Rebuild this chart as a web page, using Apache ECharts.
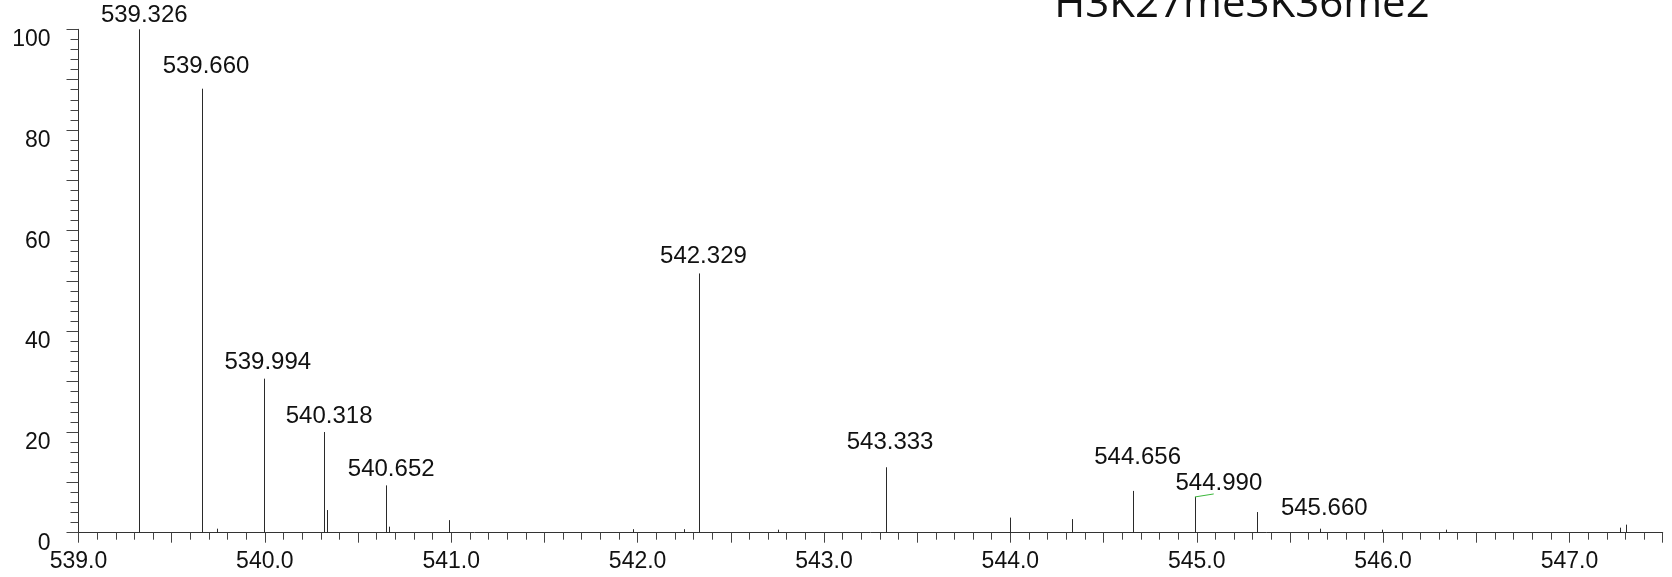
<!DOCTYPE html>
<html>
<head>
<meta charset="utf-8">
<script src="https://cdn.jsdelivr.net/npm/echarts@6/dist/echarts.min.js"></script>
<style>
  html, body { margin: 0; padding: 0; background: #fff; }
  #chart { width: 1672px; height: 577px; }
</style>
</head>
<body>
<div id="chart"></div>
<script>
// ---- data ----
const titleText = 'H3K27me3K36me2';
const mz = [539.326, 539.660, 539.741, 539.994, 540.318, 540.331, 540.651, 540.664,
            540.986, 541.975, 542.250, 542.329, 542.751, 543.333, 544.000, 544.333,
            544.656, 544.990, 545.321, 545.660, 545.994, 546.339, 547.269, 547.302];
const intensity = [100, 88.2, 0.8, 30.6, 20.0, 4.5, 9.4, 1.2,
                   2.5, 0.7, 0.7, 51.5, 0.6, 13.0, 3.0, 2.7,
                   8.3, 7.1, 4.1, 0.8, 0.6, 0.6, 1.0, 1.6];
const labeledMz = [539.326, 539.660, 539.994, 540.318, 540.652, 542.329, 543.333, 544.656, 544.990, 545.660];
const greenTrace = [[544.990, 7.1], [545.091, 7.7]];
const xTickLabels = ['539.0','540.0','541.0','542.0','543.0','544.0','545.0','546.0','547.0'];
const yTickLabels = ['0','20','40','60','80','100'];

// ---- annotation layout (pixels: baseline gap above the peak top, horizontal shift) ----
const labelGap = [8.6, 16.7, 11, 10.6, 11, 12, 19.5, 28.5, 7.7, 14.7];
const labelShift = [5, 4.5, 4, 5, 5, 4.5, 4, 5, 24, 4.5];

const FONT = '"Liberation Sans", Arial, sans-serif';

const peaks = mz.map((m, i) => [m, intensity[i]]);
function labelIndexFor(m) {
  for (let k = 0; k < labeledMz.length; k++) {
    if (Math.abs(labeledMz[k] - m) < 0.0025) return k;
  }
  return -1;
}

const chart = echarts.init(document.getElementById('chart'), null, { renderer: 'canvas' });
chart.setOption({
  animation: false,
  backgroundColor: '#fff',
  graphic: [{
    type: 'text',
    z: 100,
    style: {
      text: titleText,
      x: 1242,
      y: 5,
      align: 'center',
      verticalAlign: 'middle',
      font: '42px "Open Sans", sans-serif',
      fill: '#111'
    }
  }],
  grid: { left: 78.5, right: 9.3, top: 29.3, bottom: 44.3, containLabel: false },
  xAxis: {
    type: 'value',
    min: 539,
    max: 547.5,
    interval: 0.5,
    axisLine: { show: true, onZero: false, lineStyle: { color: '#333', width: 1 } },
    axisTick: { show: true, length: 10, lineStyle: { color: '#444', width: 1 } },
    minorTick: { show: true, splitNumber: 5, length: 7, lineStyle: { color: '#444', width: 1 } },
    splitLine: { show: false },
    axisLabel: {
      margin: 17,
      fontFamily: FONT,
      fontSize: 23,
      lineHeight: 23,
      color: '#111',
      showMinLabel: true,
      showMaxLabel: true,
      formatter: function (v) {
        const s = v.toFixed(1);
        return xTickLabels.indexOf(s) >= 0 ? s : '';
      }
    }
  },
  yAxis: {
    type: 'value',
    min: 0,
    max: 100,
    interval: 10,
    axisLine: { show: true, lineStyle: { color: '#333', width: 1 } },
    axisTick: { show: true, length: 12, lineStyle: { color: '#444', width: 1 } },
    minorTick: { show: true, splitNumber: 5, length: 8, lineStyle: { color: '#444', width: 1 } },
    splitLine: { show: false },
    axisLabel: {
      margin: 28,
      fontFamily: FONT,
      fontSize: 23,
      lineHeight: 21,
      verticalAlign: 'top',
      color: '#111',
      formatter: function (v) {
        const s = String(Math.round(v));
        return yTickLabels.indexOf(s) >= 0 ? s : '';
      }
    }
  },
  series: [{
    type: 'custom',
    coordinateSystem: 'cartesian2d',
    data: peaks,
    clip: false,
    renderItem: function (params, api) {
      const m = api.value(0), h = api.value(1);
      const base = api.coord([m, 0]);
      const top = api.coord([m, h]);
      const x = Math.round(base[0]) + 0.5;
      const children = [{
        type: 'line',
        shape: { x1: x, y1: base[1], x2: x, y2: top[1] },
        style: { stroke: '#2a2a2a', lineWidth: 1 }
      }];
      const k = labelIndexFor(m);
      if (k >= 0) {
        children.push({
          type: 'text',
          style: {
            text: labeledMz[k].toFixed(3),
            x: top[0] + labelShift[k],
            y: top[1] - labelGap[k] - 5.5,
            align: 'center',
            verticalAlign: 'middle',
            font: '24px ' + FONT,
            fill: '#111'
          }
        });
      }
      return { type: 'group', children: children };
    }
  }, {
    type: 'line',
    data: greenTrace,
    symbol: 'none',
    lineStyle: { color: '#3cb83c', width: 1 },
    z: 5
  }]
});
</script>
</body>
</html>
